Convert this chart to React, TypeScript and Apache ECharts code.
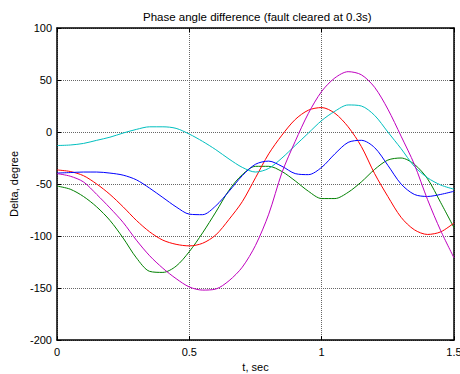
import React, { useEffect, useRef } from "react";
import * as echarts from "echarts";

const times = [0, 0.05, 0.1, 0.15, 0.2, 0.25, 0.3, 0.35, 0.4, 0.45, 0.5, 0.55, 0.6, 0.65, 0.7, 0.75, 0.8, 0.85, 0.9, 0.95, 1.0, 1.05, 1.1, 1.15, 1.2, 1.25, 1.3, 1.35, 1.4, 1.45, 1.5];

const cyanValues = [-13, -12.5, -11, -8, -5, -1, 2.5, 5, 5, 3.5, -2, -9, -17, -26, -34, -38.5, -35, -25, -13, -1, 11, 20, 26, 25, 16, 0, -16, -33, -44, -51, -55];
const blueValues = [-39.5, -39, -38.5, -38.5, -39.5, -41.5, -46, -54, -63, -72, -79, -79.5, -71, -57, -42, -31, -28, -33, -40, -41, -34, -21, -10, -8, -15, -32, -50, -60, -62, -60, -57];
const greenValues = [-52, -55, -62, -72, -85, -102, -121, -134, -135, -129, -115, -97, -77, -56, -41, -33, -33, -38, -47, -57, -64, -64, -58, -48, -36, -27, -25, -31, -45, -68, -92];
const redValues = [-36.5, -38, -42, -50, -60, -72, -85, -96, -104, -108, -109.5, -107, -99, -84, -67, -44, -21, -3, 12, 21, 23.5, 18, 5, -14, -40, -62, -82, -94, -98.5, -96, -87.5];
const magentaValues = [-40, -42.5, -48, -60, -73, -87, -104, -119, -131, -141, -149, -152, -151, -143, -130, -109, -79, -39, -9, 18, 39, 52, 58, 55, 43, 22, -4, -31, -65, -95, -121];

const title = "Phase angle difference (fault cleared at 0.3s)";
const xName = "t, sec";
const yName = "Delta, degree";

const seriesDefs = [
  { name: "green", color: "#008000", values: greenValues },
  { name: "red", color: "#ff0000", values: redValues },
  { name: "cyan", color: "#00bfbf", values: cyanValues },
  { name: "blue", color: "#0000ff", values: blueValues },
  { name: "magenta", color: "#bf00bf", values: magentaValues },
];

const FONT = "Liberation Sans, Arial, sans-serif";

export default function App() {
  const ref = useRef<HTMLDivElement>(null);
  useEffect(() => {
    if (!ref.current) return;
    const chart = echarts.init(ref.current, null, { renderer: "svg" });
    const splitLine = { show: true, lineStyle: { color: "#666", type: "dotted", width: 1 } };
    const axisLine = { show: true, onZero: false, lineStyle: { color: "#000", width: 1.5 } };
    const axisTick = { show: true, inside: true, length: 4, lineStyle: { color: "#000" } };
    chart.setOption({
      animation: false,
      backgroundColor: "#fff",
      title: {
        text: title,
        left: 138,
        top: 6,
        textStyle: { fontFamily: FONT, fontSize: 11.5, fontWeight: "normal", color: "#000" },
      },
      grid: { left: 57, right: 6, top: 28, bottom: 34, containLabel: false, outerBoundsMode: "none" },
      xAxis: [
        {
          type: "value",
          min: 0,
          max: 1.5,
          interval: 0.5,
          name: xName,
          nameLocation: "middle",
          nameGap: 20,
          nameTextStyle: { fontFamily: FONT, fontSize: 11, color: "#000" },
          axisLine,
          axisTick,
          splitLine,
          axisLabel: {
            fontFamily: FONT,
            fontSize: 11,
            color: "#000",
            margin: 6,
            formatter: (v: number) => String(v),
          },
        },
        {
          type: "value",
          position: "top",
          min: 0,
          max: 1.5,
          interval: 0.5,
          axisLine,
          axisTick,
          splitLine: { show: false },
          axisLabel: { show: false },
        },
      ],
      yAxis: [
        {
          type: "value",
          min: -200,
          max: 100,
          interval: 50,
          name: yName,
          nameLocation: "middle",
          nameGap: 36,
          nameTextStyle: { fontFamily: FONT, fontSize: 11, color: "#000" },
          axisLine,
          axisTick,
          splitLine,
          axisLabel: { fontFamily: FONT, fontSize: 11, color: "#000", margin: 5 },
        },
        {
          type: "value",
          position: "right",
          min: -200,
          max: 100,
          interval: 50,
          axisLine,
          axisTick,
          splitLine: { show: false },
          axisLabel: { show: false },
        },
      ],
      series: seriesDefs.map((s) => ({
        name: s.name,
        type: "line",
        data: times.map((t, i) => [t, s.values[i]]),
        smooth: 0.3,
        showSymbol: false,
        symbol: "none",
        lineStyle: { color: s.color, width: 1 },
        itemStyle: { color: s.color },
      })),
    });
    return () => chart.dispose();
  }, []);
  return (
    <div
      ref={ref}
      style={{ position: "absolute", left: 0, top: 0, width: 460, height: 374, background: "#fff" }}
    />
  );
}
